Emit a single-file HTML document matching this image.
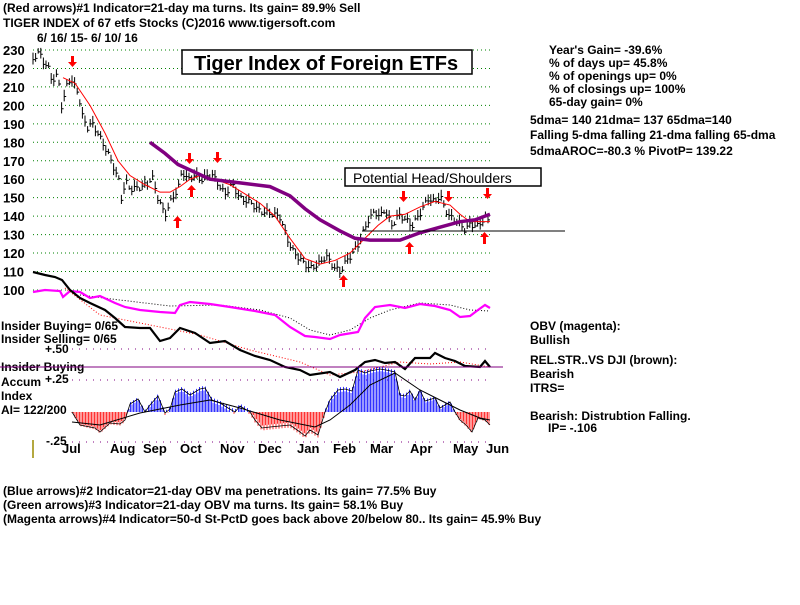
<!DOCTYPE html>
<html><head><meta charset="utf-8"><style>
body{margin:0;background:#fff;width:800px;height:600px;overflow:hidden}
svg text{font-family:"Liberation Sans",sans-serif;font-weight:bold;font-size:12px;fill:#000}
</style></head><body>
<svg id="s" width="800" height="600" xmlns="http://www.w3.org/2000/svg">
<text x="3" y="12">(Red arrows)#1 Indicator=21-day ma turns.  Its gain= 89.9% Sell</text>
<text x="3" y="27">TIGER INDEX of  67 etfs Stocks  (C)2016  www.tigersoft.com</text>
<text x="37" y="42">6/ 16/ 15- 6/ 10/ 16</text>
<g id="grid"></g>
<rect x="182" y="50" width="290" height="24" fill="#fff" stroke="#000" stroke-width="1.5"/>
<text x="194" y="70" style="font-size:20px">Tiger Index of Foreign ETFs</text>
<rect x="345" y="168" width="196" height="18" fill="#fff" stroke="#000" stroke-width="1.5"/>
<text x="353" y="183" style="font-size:14px;font-weight:normal">Potential Head/Shoulders</text>
<text x="549" y="54">Year's Gain= -39.6%</text>
<text x="549" y="67">% of days up= 45.8%</text>
<text x="549" y="80">% of openings up= 0%</text>
<text x="549" y="93">% of closings up= 100%</text>
<text x="549" y="106">65-day gain= 0%</text>
<text x="530" y="124">5dma= 140 21dma= 137 65dma=140</text>
<text x="530" y="139">Falling 5-dma  falling 21-dma  falling 65-dma</text>
<text x="530" y="155">5dmaAROC=-80.3 %  PivotP= 139.22</text>
<text x="530" y="330">OBV (magenta):</text>
<text x="530" y="344">Bullish</text>
<text x="530" y="364">REL.STR..VS DJI (brown):</text>
<text x="530" y="378">Bearish</text>
<text x="530" y="392">ITRS=</text>
<text x="530" y="420">Bearish: Distrubtion Falling.</text>
<text x="548" y="432">IP= -.106</text>
<text x="1" y="330">Insider Buying= 0/65</text>
<text x="1" y="343">Insider Selling= 0/65</text>
<text x="45" y="353">+.50</text>
<text x="1" y="371">Insider Buying</text>
<text x="1" y="386">Accum</text>
<text x="45" y="383">+.25</text>
<text x="1" y="400">Index</text>
<text x="1" y="414">AI= 122/200</text>
<text x="46" y="445">-.25</text>
<line x1="33" y1="440" x2="33" y2="458" stroke="#9a8a00" stroke-width="1.5"/>
<text x="3" y="495">(Blue arrows)#2 Indicator=21-day OBV ma penetrations.  Its gain= 77.5% Buy</text>
<text x="3" y="509">(Green arrows)#3 Indicator=21-day OBV ma turns.  Its gain= 58.1% Buy</text>
<text x="3" y="523">(Magenta arrows)#4 Indicator=50-d St-PctD goes back above 20/below 80..  Its gain= 45.9% Buy</text>
<g id="d"></g>
</svg>
<script>
const NS="http://www.w3.org/2000/svg",g=document.getElementById('grid'),d=document.getElementById('d');
function el(p,t,a,txt){const e=document.createElementNS(NS,t);for(const k in a)e.setAttribute(k,a[k]);if(txt)e.textContent=txt;p.appendChild(e);return e;}
const Y=p=>50+(230-p)*1.846;
for(let p=100;p<=230;p+=10){const y=Y(p);el(g,'line',{x1:33,y1:y,x2:490,y2:y,stroke:'#008000','stroke-dasharray':'1,3'});el(g,'text',{x:3,y:y+5,style:'font-size:13px'},String(p));}
[[349],[380],[442]].forEach(v=>el(g,'line',{x1:72,y1:v[0],x2:490,y2:v[0],stroke:'#800080','stroke-dasharray':'1,6'}));
const months=[['Jul',62],['Aug',110],['Sep',143],['Oct',180],['Nov',220],['Dec',258],['Jan',297],['Feb',333],['Mar',370],['Apr',410],['May',453],['Jun',486]];
months.forEach(m=>el(g,'text',{x:m[1],y:453,style:'font-size:13px'},m[0]));
function interp(pts,x){for(let i=0;i<pts.length-1;i++){if(x>=pts[i][0]&&x<=pts[i+1][0]){const t=(x-pts[i][0])/(pts[i+1][0]-pts[i][0]);return pts[i][1]+t*(pts[i+1][1]-pts[i][1]);}}return pts[pts.length-1][1];}
function pl(pts,st,w,dash){el(d,'polyline',{points:pts.map(p=>p.join(',')).join(' '),fill:'none',stroke:st,'stroke-width':w,'stroke-dasharray':dash||'none'});}
const price=[[33,226],[40,229],[45,222],[50,220],[52,213],[58,217],[60,208],[62,198],[68,215],[72,213],[78,208],[82,195],[88,188],[92,191],[100,183],[110,172],[120,158],[122,147],[125,160],[130,155],[140,156],[148,158],[152,162],[158,150],[165,141],[172,150],[178,155],[182,165],[188,160],[195,163],[200,160],[212,163],[218,158],[225,152],[232,158],[240,150],[250,148],[260,143],[270,142],[280,140],[286,130],[292,122],[300,117],[310,112],[320,115],[326,119],[332,114],[340,110],[345,115],[352,120],[358,125],[362,130],[368,138],[375,143],[380,140],[385,144],[392,135],[398,141],[405,139],[412,135],[420,142],[428,150],[435,148],[440,152],[445,144],[450,140],[458,137],[465,133],[470,136],[478,135],[485,140],[490,137]];
let s="";for(let x=33;x<=490;x+=2.6){const p=interp(price,x)+Math.sin(x*1.7)*1.5;const y=Y(p);const h=2+Math.abs(Math.sin(x*0.9))*4;
s+=`M${x.toFixed(1)},${y-h} V${y+h} M${x.toFixed(1)},${y+1} h2 `;}
el(d,'path',{d:s,stroke:'#000','stroke-width':1,fill:'none'});
const ma21=[[63,215],[75,212],[90,200],[105,185],[118,170],[130,162],[145,157],[160,153],[170,153],[180,156],[190,160],[200,162],[215,160],[230,157],[245,152],[260,147],[275,140],[290,128],[305,117],[320,114],[335,116],[350,120],[365,128],[378,135],[390,140],[405,141],[420,145],[435,148],[450,146],[460,141],[470,137],[480,137],[490,137]].map(p=>[p[0],Y(p[1])]);
pl(ma21,'#f00',1);
const ma65=[[150,180],[165,174],[178,168],[190,165],[210,160],[240,158],[270,156],[290,151],[305,144],[320,138],[340,132],[355,128],[370,127],[400,127],[420,131],[440,134],[460,137],[475,138],[490,141]].map(p=>[p[0],Y(p[1])]);
pl(ma65,'#800080',3.5);
el(d,'line',{x1:362,y1:231,x2:565,y2:231,stroke:'#000'});
function arrow(x,y,down){const c='#f00';if(down){el(d,'rect',{x:x-1,y:y-10,width:3,height:7,fill:c});el(d,'polygon',{points:`${x-4},${y-4} ${x+5},${y-4} ${x+0.5},${y+1}`,fill:c});}else{el(d,'rect',{x:x-1,y:y+3,width:3,height:8,fill:c});el(d,'polygon',{points:`${x-4},${y+4} ${x+5},${y+4} ${x+0.5},${y-1}`,fill:c});}}
[[72,66],[189,163],[217,162],[403,201],[448,201],[487,198]].forEach(a=>arrow(a[0],a[1],true));
[[177,217],[191,186],[343,276],[409,243],[484,233]].forEach(a=>arrow(a[0],a[1],false));
const mag=[[33,292],[45,290],[60,291],[63,297],[70,291],[80,292],[90,298],[100,296],[115,303],[125,307],[140,310],[160,312],[175,313],[180,305],[190,302],[210,304],[230,307],[255,311],[275,315],[290,327],[305,336],[315,337],[330,339],[340,335],[358,332],[365,318],[375,307],[390,305],[405,308],[420,304],[435,306],[450,310],[460,317],[470,316],[478,310],[485,305],[490,308]];
const magma=[[80,295],[120,300],[170,306],[220,305],[260,310],[290,318],[310,330],[330,335],[350,330],[370,318],[390,310],[420,303],[450,305],[470,310],[490,311]];
pl(magma,'#000',1,'1,2');pl(mag,'#f0f',2.2);
const obv=[[33,272],[45,275],[55,277],[62,280],[70,290],[80,298],[90,303],[105,310],[115,318],[125,327],[140,328],[150,328],[160,341],[170,338],[180,328],[195,333],[210,343],[225,341],[240,350],[255,356],[270,360],[285,367],[300,370],[310,375],[330,372],[340,377],[355,370],[365,362],[375,360],[385,363],[395,362],[405,369],[415,358],[430,358],[435,353],[445,358],[455,361],[465,366],[480,367],[485,361],[490,367]];
const obvma=[[65,288],[100,315],[150,325],[200,335],[250,350],[300,362],[330,375],[360,372],[400,362],[430,364],[460,362],[490,367]];
pl(obvma,'#f00',1,'1,2');pl(obv,'#000',2.2);
el(d,'line',{x1:0,y1:367,x2:503,y2:367,stroke:'#800080'});
const ai=[[72,412],[80,425],[95,428],[100,432],[110,423],[120,424],[125,420],[130,404],[138,399],[145,412],[150,405],[158,396],[165,413],[170,409],[175,392],[182,389],[190,395],[200,389],[205,388],[212,400],[220,403],[228,408],[235,412],[240,406],[250,412],[255,420],[262,428],[270,427],[280,426],[290,425],[300,432],[305,436],[310,430],[318,435],[325,412],[330,400],[338,390],[345,389],[352,391],[358,370],[365,373],[370,371],[380,369],[386,370],[395,372],[400,395],[405,396],[410,391],[415,400],[420,390],[425,401],[435,398],[440,408],[450,402],[455,412],[460,420],[466,425],[472,432],[478,418],[485,420],[490,425]];
let b="",r="";for(let x=72;x<=490;x+=1.5){const y=interp(ai,x)+Math.sin(x*2.1)*2.5;if(y<412)b+=`M${x},412V${y}`;else r+=`M${x},412V${y}`;}
el(d,'path',{d:b,stroke:'#00f','stroke-width':0.8});el(d,'path',{d:r,stroke:'#f00','stroke-width':0.8});
pl(ai,'#000',0.8);
pl([[72,422],[100,425],[140,413],[180,405],[210,400],[240,408],[280,420],[315,427],[330,420],[350,405],[370,385],[395,373],[420,390],[440,400],[460,410],[480,418],[490,420]],'#000',1);
</script>
</body></html>
